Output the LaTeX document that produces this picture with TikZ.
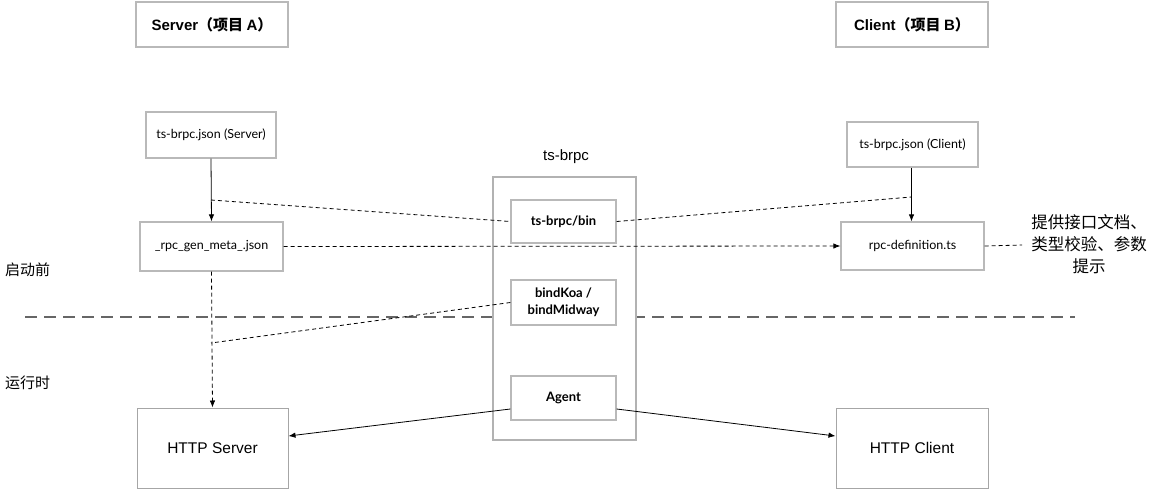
\documentclass[tikz,border=0pt]{standalone}
\usepackage{fontspec}
\setmainfont{Liberation Sans}
\newfontfamily\cjk{Noto Sans CJK SC}
\newfontfamily\lat{Lato}
\usetikzlibrary{arrows.meta,shadows}
\tikzset{
  box/.style={draw=gray!55, line width=1.3pt, fill=white, inner sep=0pt, align=center,
    drop shadow={shadow xshift=0pt, shadow yshift=-1.2pt, fill=gray!35, opacity=1}},
  bigbox/.style={draw=gray!60, line width=1.3pt, fill=white, inner sep=0pt, align=center,
    drop shadow={shadow xshift=0pt, shadow yshift=-1.2pt, fill=gray!35, opacity=1}},
  small/.style={font=\lat\fontsize{12.5}{15}\selectfont},
  boldsmall/.style={font=\lat\bfseries\fontsize{13}{17}\selectfont},
  arr/.style={-{Latex[length=7pt,width=5.5pt]}, line width=0.8pt},
  dsh/.style={dashed, dash pattern=on 4pt off 3pt, line width=0.8pt},
  head/.style={box, minimum width=152pt, minimum height=45pt, font=\bfseries\fontsize{15}{17}\selectfont},
  http/.style={draw=gray!70, line width=1pt, minimum height=80pt, font=\fontsize{15.5}{17}\selectfont},
}
\begin{document}
\begin{tikzpicture}[x=1pt,y=-1pt]
\useasboundingbox (0,0) rectangle (1154,490);
% separator
\draw[gray!80!black, line width=1.6pt, dash pattern=on 12pt off 7pt] (25,317) -- (1075,317);
% headers
\node[head] (srv) at (212,24.5) {Server{\cjk\bfseries（项目 }A{\cjk\bfseries）}};
\node[head] (cli) at (912,24.5) {Client{\cjk\bfseries（项目 }B{\cjk\bfseries）}};
% left column
\node[box, small, minimum width=130pt, minimum height=46pt] (sjson) at (211,135) {ts-brpc.json (Server)};
\node[box, small, minimum width=143pt, minimum height=49pt] (meta) at (211.5,246.5) {\_rpc\_gen\_meta\_.json};
% right column
\node[box, small, minimum width=131pt, minimum height=45pt] (cjson) at (912.5,144.5) {ts-brpc.json (Client)};
\node[box, small, minimum width=143pt, minimum height=48pt] (rpcdef) at (912.5,246) {rpc-definition.ts};
% ts-brpc package
\node[font=\fontsize{15}{17}\selectfont] (pkglabel) at (566,157) {ts-brpc};
\node[bigbox, minimum width=143pt, minimum height=263pt] (pkg) at (564.5,308.5) {};
\node[box, boldsmall, minimum width=105pt, minimum height=43pt] (bin) at (563.5,221.5) {ts-brpc/bin};
\node[box, boldsmall, minimum width=105pt, minimum height=45pt] (bind) at (563.5,302.5) {bindKoa /\\bindMidway};
\node[box, boldsmall, minimum width=105pt, minimum height=44pt] (agent) at (563.5,398) {Agent};
% runtime
\node[http, minimum width=151pt] (hs) at (212.5,448) {HTTP Server};
\node[http, minimum width=152pt] (hc) at (912,448) {HTTP Client};
% phase labels
\node[anchor=west, font=\cjk\fontsize{15}{17}\selectfont, inner sep=0pt] (pre) at (5,270) {启动前};
\node[anchor=west, font=\cjk\fontsize{15}{17}\selectfont, inner sep=0pt] (run) at (5,383) {运行时};
% note
\node[font=\cjk\fontsize{16.5}{22}\selectfont, align=center, inner sep=0pt] (note) at (1089,244) {提供接口文档、\\类型校验、参数\\提示};
\coordinate (noteend) at (1022,245);
% coordinates on connectors
\coordinate (p1) at (211,200);
\coordinate (q1) at (911.5,197);
\coordinate (p2) at (211,343);
% connectors
\draw[arr] (sjson.south) -- (meta.north);
\draw[arr] (cjson.south -| q1) -- (rpcdef.north -| q1);
\draw[dsh] (p1) -- (bin.west);
\draw[dsh] (bin.east) -- (q1);
\draw[dsh, arr] (meta.east) -- (rpcdef.west);
\draw[dsh] (rpcdef.east) -- (noteend);
\draw[dsh, arr] (meta.south) -- (hs.north);
\draw[dsh] (bind.west) -- (p2);
\draw[arr] ([yshift=-11pt]agent.west) -- ([yshift=12pt]hs.east);
\draw[arr] ([yshift=-11pt]agent.east) -- ([yshift=12pt]hc.west);
\end{tikzpicture}
\end{document}
